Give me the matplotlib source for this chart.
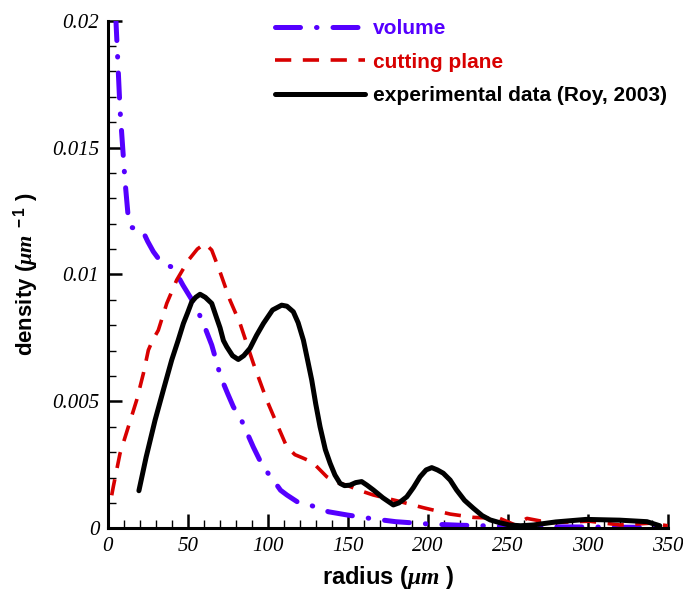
import matplotlib
matplotlib.use("Agg")
import matplotlib.pyplot as plt
from matplotlib.ticker import MultipleLocator

plt.rcParams['mathtext.fontset'] = 'custom'
plt.rcParams['mathtext.rm'] = 'Liberation Sans:bold'
plt.rcParams['mathtext.it'] = 'Liberation Serif:italic:bold'

# volume (dash-dot, blue)
vol_r = [5, 7.7, 10.8, 12.9, 15, 19, 22, 25, 28.5, 32, 36, 40, 43, 47, 53, 59, 65,
         68, 70, 72.3, 75, 78.5, 84, 91, 97, 103.5, 108, 112, 120, 127.5, 138, 150,
         166, 180, 200, 220, 241, 270, 300, 330, 350]
vol_d = [0.0202, 0.0165, 0.0137, 0.0122, 0.01185, 0.0118, 0.0117, 0.0113, 0.0109,
         0.0106, 0.01037, 0.0103, 0.01004, 0.00958, 0.00896, 0.0082, 0.00722,
         0.00656, 0.0061, 0.00571, 0.0053, 0.00479, 0.0042, 0.0032, 0.00243, 0.0019,
         0.0015, 0.00131, 0.00098, 0.00089, 0.00065, 0.00052, 0.00037, 0.00026,
         0.00017, 0.00012, 0.00009, 0.00006, 0.00005, 0.00004, 0.00003]

# cutting plane (dashed, red)
cut_r = [2.5, 3.5, 7.7, 12.9, 18.1, 22.3, 25.4, 28, 31.6, 36.9, 43.1, 50.4, 56, 60.8,
         65, 70.2, 76.4, 82.7, 91, 99.4, 105.6, 111.9, 117, 122.3, 128, 136.9, 143,
         149.4, 157, 166, 181.6, 197.3, 214, 228.5, 245, 254.6, 262, 276, 301, 320,
         339, 350]
cut_d = [0.0013, 0.00164, 0.00295, 0.004, 0.00505, 0.0061, 0.00702, 0.0074, 0.0078,
         0.00886, 0.00978, 0.01056, 0.0110, 0.01122, 0.01096, 0.0101, 0.00899,
         0.00807, 0.0065, 0.00505, 0.00413, 0.00321, 0.0029, 0.00276, 0.0026, 0.00203,
         0.0018, 0.0017, 0.0015, 0.00131, 0.00107, 0.00081, 0.00056, 0.00043,
         0.00039, 0.00013, 0.00039, 0.00022, 0.00028, 0.00013, 0.0002, 0.0001]

# experimental data (Roy, 2003)
exp_r = [19.5, 24, 29.6, 35, 40, 44, 47.3, 50, 52.5, 55, 57.7, 61, 65, 68, 70.2, 72.3,
         74.4, 78, 81.6, 85, 88.9, 93, 97.3, 103, 108.7, 112, 116, 119, 122.3, 125,
         127.5, 130, 132.7, 136, 139, 142, 145.2, 148, 151.4, 155, 158.7, 162, 166,
         172, 178.5, 182, 186.9, 191, 195.2, 199, 202.5, 206, 209.7, 214, 218, 223,
         228.5, 234, 239, 245, 251, 258, 266, 280, 299, 320, 337, 345]
exp_d = [0.00148, 0.0028, 0.00426, 0.0055, 0.00663, 0.0074, 0.00807, 0.0085, 0.00892,
         0.0091, 0.00922, 0.0091, 0.00886, 0.0083, 0.0079, 0.0074, 0.00715, 0.0068,
         0.00665, 0.0068, 0.00709, 0.0076, 0.00807, 0.0086, 0.00879, 0.00875,
         0.00853, 0.0081, 0.00741, 0.0066, 0.00584, 0.0049, 0.004, 0.0031, 0.00256,
         0.0021, 0.00177, 0.00168, 0.0017, 0.0018, 0.00184, 0.0017, 0.00151, 0.0012,
         0.00092, 0.001, 0.00124, 0.0016, 0.00203, 0.0023, 0.00239, 0.0023, 0.00217,
         0.0019, 0.00151, 0.0011, 0.00079, 0.0005, 0.00033, 0.00022, 0.00013, 0.0001,
         0.00013, 0.00025, 0.00035, 0.00032, 0.00026, 0.0001]

blue = '#5500ff'
red = '#d80000'

fig = plt.figure(figsize=(6.83, 5.90), dpi=100)
ax = fig.add_axes([0.1577, 0.1046, 0.82, 0.8604])

ax.plot(vol_r, vol_d, color=blue, lw=3.6, dashes=(5, 3.2, 0.1, 3.2),
        dash_capstyle='round', label='volume')
ax.plot(cut_r, cut_d, color=red, lw=2.6, dashes=(4.5, 3.2), label='cutting plane')
ax.plot(exp_r, exp_d, color='black', lw=3.6, solid_capstyle='round',
        solid_joinstyle='round', label='experimental data (Roy, 2003)')

ax.set_xlim(0, 350)
ax.set_ylim(0, 0.02)
ax.xaxis.set_major_locator(MultipleLocator(50))
ax.xaxis.set_minor_locator(MultipleLocator(10))
ax.yaxis.set_minor_locator(MultipleLocator(0.001))
ax.set_yticks([0, 0.005, 0.01, 0.015, 0.02])
ax.set_yticklabels(['0', '0.005', '0.01', '0.015', '0.02'])

ax.spines['top'].set_visible(False)
ax.spines['right'].set_visible(False)
ax.spines['left'].set_linewidth(2.2)
ax.spines['bottom'].set_linewidth(2.2)
ax.tick_params(which='major', direction='in', length=10, width=1.8, pad=6)
ax.tick_params(which='minor', direction='in', length=6, width=1.0)
for lab in ax.get_xticklabels() + ax.get_yticklabels():
    lab.set_fontfamily('Liberation Serif')
    lab.set_fontstyle('italic')
    lab.set_fontsize(15)

ax.set_xlabel(r'radius ($\mu m$ )', fontsize=17, fontweight='bold',
              fontfamily='Liberation Sans', labelpad=6)
ax.set_ylabel(r'density ($\mu m^{\ -1}$ )', fontsize=16, fontweight='bold',
              fontfamily='Liberation Sans', labelpad=8)

leg = fig.legend(loc='upper left', bbox_to_anchor=(0.4026, 0.967), frameon=False,
                 prop={'family': 'Liberation Sans', 'weight': 'bold', 'size': 15},
                 handlelength=4.3, handletextpad=0.4, labelspacing=0.68,
                 borderpad=0, borderaxespad=0)
for txt, c in zip(leg.get_texts(), [blue, red, 'black']):
    txt.set_color(c)

fig.savefig('out.png', dpi=100)
